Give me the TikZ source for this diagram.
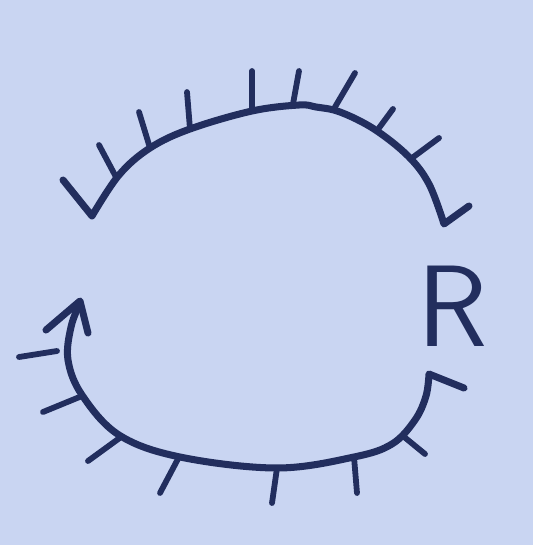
\documentclass[tikz,border=0pt]{standalone}
\usepackage{tikz}
\definecolor{paper}{RGB}{201,213,242}
\definecolor{ink}{RGB}{34,46,94}

\begin{document}
\begin{tikzpicture}[x=0.02cm, y=-0.02cm, line cap=round, line join=round, wall/.style={draw=ink, line width=4pt}, hatch/.style={draw=ink, line width=3.3pt}]
\fill[paper] (0,0) rectangle (533,545);
\useasboundingbox (0,0) rectangle (533,545);

% upper wall with hatching
\draw[wall] (63,180) -- (92,216) plot[smooth, tension=0.6] coordinates {(92,216) (119,175) (150,148) (190,129) (252,111) (299,105) (316,107) (340,112) (374,129) (408,156) (429,184) (444,224)} -- (469,206);
\foreach \bx/\by/\tx/\ty in {116/177/99/145, 150/148/139/112, 190/129/187/92, 252/111/252/71, 293/104/299/71, 335/107/355/73, 379/128/393/109, 412/158/439/138}
  \draw[hatch] (\bx,\by) -- (\tx,\ty);

% lower wall, ends in arrow
\draw[wall] plot[smooth, tension=0.6] coordinates {(80,303) (71,327) (68,360) (82,395) (119,435) (180,457) (277,468) (354,457) (392,444) (415,420) (426,396) (429,374)} -- (464,388);
\draw[wall] (46,330) -- (80,301) -- (88,333);
\foreach \bx/\by/\tx/\ty in {57/351/19/357, 82/396/43/412, 121/437/88/461, 179/457/160/493, 277/468/272/503, 354/457/357/493, 403/436/425/454}
  \draw[hatch] (\bx,\by) -- (\tx,\ty);

% label
\node (region) at (453,306) [text=ink, inner sep=0pt, font=\fontsize{66}{66}\selectfont\sffamily] {R};
\end{tikzpicture}
\end{document}
